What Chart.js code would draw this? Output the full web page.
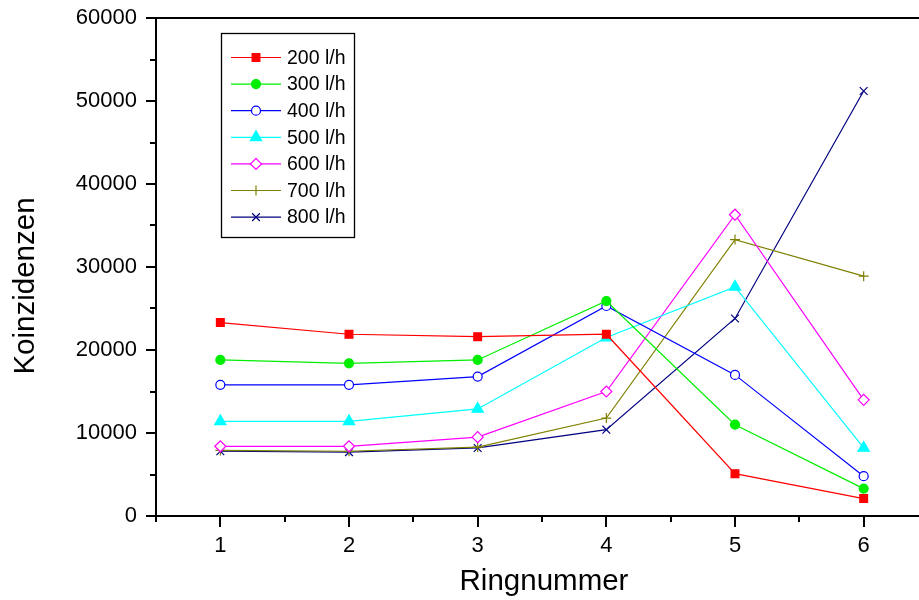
<!DOCTYPE html>
<html>
<head>
<meta charset="utf-8">
<script src="https://cdn.jsdelivr.net/npm/chart.js"></script>
<style>
  html, body { margin: 0; padding: 0; background: #fff; overflow: hidden; }
  #wrap { width: 919px; height: 600px; overflow: hidden; }
</style>
</head>
<body>
<div id="wrap"><canvas id="chart" width="940" height="600"></canvas></div>
<script>
// --- Data ---
const ringNumbers = [1, 2, 3, 4, 5, 6];
const flowLabels = ["200 l/h", "300 l/h", "400 l/h", "500 l/h", "600 l/h", "700 l/h", "800 l/h"];
const flow200 = [23300, 21900, 21600, 21900, 5100, 2100];
const flow300 = [18800, 18400, 18800, 25900, 11000, 3300];
const flow400 = [15800, 15800, 16800, 25300, 17000, 4800];
const flow500 = [11400, 11400, 12900, 21500, 27600, 8200];
const flow600 = [8400, 8400, 9500, 15000, 36300, 14000];
const flow700 = [7900, 7800, 8300, 11800, 33300, 28900];
const flow800 = [7800, 7700, 8200, 10400, 23800, 51200];

const FONT = "'Liberation Sans', Arial, sans-serif";

// --- Series styles ---
const seriesStyle = [
  { color: "#ff0000", point: "rect", radius: 5.5, fill: "#ff0000" },
  { color: "#00ee00", point: "circle", radius: 4.5, fill: "#00ee00" },
  { color: "#0000ff", point: "circle", radius: 4.5, fill: "#ffffff" },
  { color: "#00ffff", point: "triangle", radius: 6.5, fill: "#00ffff" },
  { color: "#ff00ff", point: "rectRot", radius: 5.5, fill: "#ffffff" },
  { color: "#808000", point: "cross", radius: 5, fill: "#808000" },
  { color: "#000080", point: "crossRot", radius: 5.5, fill: "#000080" },
];
const seriesValues = [flow200, flow300, flow400, flow500, flow600, flow700, flow800];

const datasets = seriesValues.map((vals, i) => ({
  label: flowLabels[i],
  data: vals.map((v, j) => ({ x: ringNumbers[j], y: v })),
  borderColor: seriesStyle[i].color,
  backgroundColor: seriesStyle[i].fill,
  pointBorderColor: seriesStyle[i].color,
  pointBackgroundColor: seriesStyle[i].fill,
  pointStyle: seriesStyle[i].point,
  pointRadius: seriesStyle[i].radius,
  pointBorderWidth: 1.2,
  borderWidth: 1.2,
  tension: 0,
  fill: false,
}));

// --- Plugin: axis frame, minor/major ticks, titles, inset legend ---
const framePlugin = {
  id: "frame",
  afterDraw(chart) {
    const ctx = chart.ctx;
    const area = chart.chartArea;
    const xs = chart.scales.x;
    const ys = chart.scales.y;
    ctx.save();
    ctx.strokeStyle = "#000";
    ctx.lineWidth = 2;
    ctx.beginPath();
    ctx.moveTo(area.left, area.top);
    ctx.lineTo(area.right, area.top);
    ctx.lineTo(area.right, area.bottom);
    ctx.lineTo(area.left, area.bottom);
    ctx.closePath();
    ctx.stroke();

    // ticks
    ctx.lineWidth = 2;
    ctx.beginPath();
    ys.ticks.forEach((t) => {
      const y = Math.round(ys.getPixelForValue(t.value));
      const len = t.value % 10000 === 0 ? 10 : 6;
      ctx.moveTo(area.left - len, y);
      ctx.lineTo(area.left, y);
    });
    xs.ticks.forEach((t) => {
      const x = Math.round(xs.getPixelForValue(t.value));
      const len = Number.isInteger(t.value) ? 11 : 6;
      ctx.moveTo(x, area.bottom);
      ctx.lineTo(x, area.bottom + len);
    });
    ctx.stroke();

    // axis titles
    ctx.fillStyle = "#000";
    ctx.font = "29.5px " + FONT;
    ctx.textAlign = "center";
    ctx.textBaseline = "middle";
    ctx.fillText("Ringnummer", 544, 582);
    ctx.save();
    ctx.translate(26, 286);
    ctx.rotate(-Math.PI / 2);
    ctx.fillText("Koinzidenzen", 0, 0);
    ctx.restore();

    // legend
    const bx = 221, by = 33, bw = 133, bh = 204;
    ctx.fillStyle = "#fff";
    ctx.fillRect(bx, by, bw, bh);
    ctx.strokeStyle = "#000";
    ctx.lineWidth = 1.3;
    ctx.strokeRect(bx + 0.5, by + 0.5, bw, bh);
    ctx.font = "19.5px " + FONT;
    ctx.textAlign = "left";
    ctx.textBaseline = "middle";
    chart.data.datasets.forEach((ds, i) => {
      const y = 57.5 + i * 26.6;
      ctx.strokeStyle = ds.borderColor;
      ctx.lineWidth = 1.2;
      ctx.beginPath();
      ctx.moveTo(231, y);
      ctx.lineTo(281, y);
      ctx.stroke();
      ctx.fillStyle = ds.pointBackgroundColor;
      ctx.strokeStyle = ds.pointBorderColor;
      Chart.helpers.drawPoint(ctx, {
        pointStyle: ds.pointStyle,
        radius: ds.pointRadius,
        rotation: 0,
        borderWidth: 1.2,
      }, 256, y);
      ctx.fillStyle = "#000";
      ctx.fillText(ds.label, 287, y + 1);
    });
    ctx.restore();
  },
};

new Chart(document.getElementById("chart").getContext("2d"), {
  type: "line",
  data: { datasets },
  options: {
    responsive: false,
    animation: false,
    layout: { padding: { top: 18, right: 12, left: 0, bottom: 0 } },
    plugins: {
      legend: { display: false },
      tooltip: { enabled: false },
    },
    scales: {
      x: {
        type: "linear",
        min: 0.5,
        max: 6.5,
        grid: { display: false, drawTicks: false },
        border: { display: false },
        ticks: {
          stepSize: 0.5,
          autoSkip: false,
          maxRotation: 0,
          padding: 17,
          color: "#000",
          font: { family: FONT, size: 22 },
          callback: (v) => (Number.isInteger(v) ? String(v) : ""),
        },
        afterFit: (scale) => {
          scale.height = 84;
          scale.paddingLeft = 0;
          scale.paddingRight = 0;
        },
      },
      y: {
        min: 0,
        max: 60000,
        grid: { display: false, drawTicks: false },
        border: { display: false },
        ticks: {
          stepSize: 5000,
          autoSkip: false,
          padding: 19,
          color: "#000",
          font: { family: FONT, size: 22 },
          callback: (v) => (v % 10000 === 0 ? String(v) : ""),
        },
        afterFit: (scale) => {
          scale.width = 156;
          scale.paddingTop = 0;
          scale.paddingBottom = 0;
        },
      },
    },
  },
  plugins: [framePlugin],
});
</script>
</body>
</html>
